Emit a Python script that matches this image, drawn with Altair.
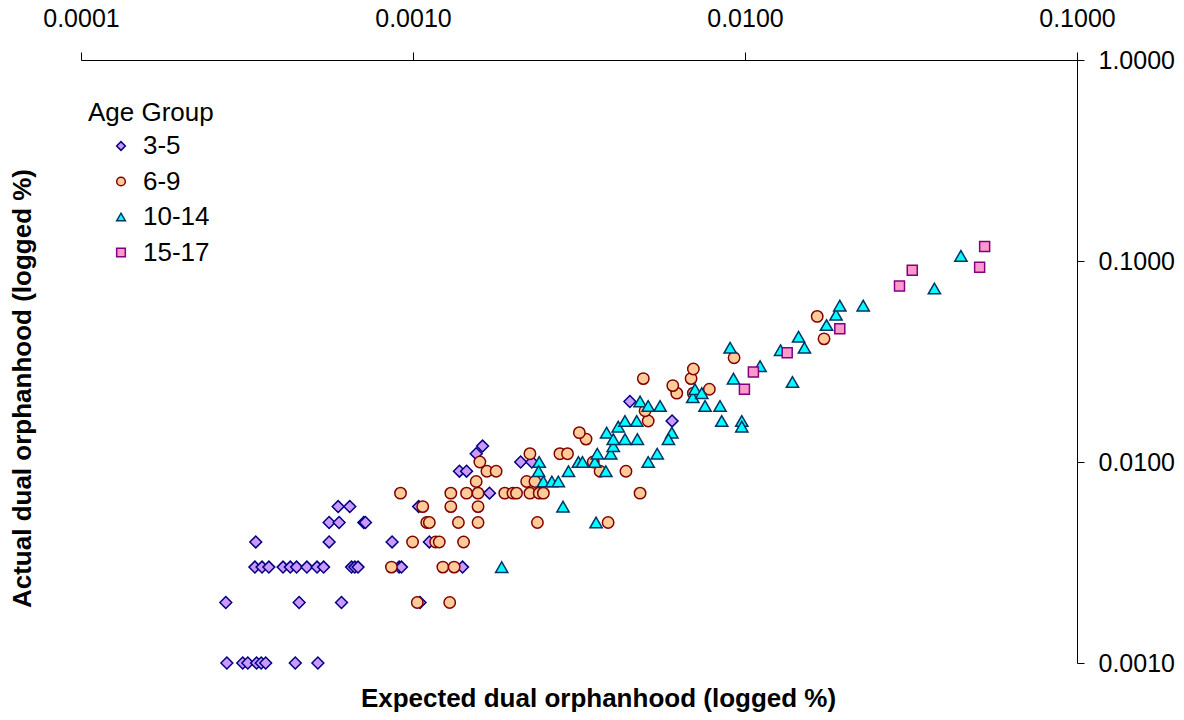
import altair as alt
import pandas as pd

groups = ["3-5", "6-9", "10-14", "15-17"]

# Age group 3-5 (diamonds)
x_35 = [0.000275, 0.000307, 0.000318, 0.000338, 0.000349, 0.000360, 0.000442, 0.000517,
        0.000273, 0.000454, 0.000609, 0.00105,
        0.000334, 0.000351, 0.000368, 0.000406, 0.000427, 0.000446, 0.000479, 0.000514,
        0.000538, 0.000653, 0.000668, 0.000683, 0.000908, 0.000923, 0.00141,
        0.000336, 0.000559, 0.000865, 0.00112,
        0.000559, 0.000599, 0.000711, 0.000719,
        0.000595, 0.000645, 0.00104,
        0.00170,
        0.00138, 0.00145,
        0.00211, 0.00228,
        0.00155, 0.00162, 0.00603, 0.00450]
y_35 = [0.001, 0.001, 0.001, 0.001, 0.001, 0.001, 0.001, 0.001,
        0.002, 0.002, 0.002, 0.002,
        0.003, 0.003, 0.003, 0.003, 0.003, 0.003, 0.003, 0.003,
        0.003, 0.003, 0.003, 0.003, 0.003, 0.003, 0.003,
        0.004, 0.004, 0.004, 0.004,
        0.005, 0.005, 0.005, 0.005,
        0.006, 0.006, 0.006,
        0.007,
        0.009, 0.009,
        0.010, 0.010,
        0.011, 0.012, 0.016, 0.020]

# Age group 6-9 (circles)
x_69 = [0.00103, 0.00129,
        0.000861, 0.00123, 0.00133,
        0.000997, 0.00117, 0.00120, 0.00142,
        0.00110, 0.00112, 0.00137, 0.00157, 0.00237, 0.00387,
        0.00107, 0.00130, 0.00157,
        0.000917, 0.00130, 0.00145, 0.00157, 0.00189, 0.00200, 0.00205, 0.00225, 0.00240, 0.00247, 0.00483,
        0.00155, 0.00220, 0.00233,
        0.00167, 0.00178, 0.00366, 0.00438,
        0.00159, 0.00349,
        0.00225, 0.00277, 0.00292,
        0.00332, 0.00317, 0.00511, 0.00500,
        0.00623, 0.00699, 0.00781, 0.00606, 0.00494, 0.00688, 0.00699,
        0.00927, 0.0173, 0.0165]
y_69 = [0.002, 0.002,
        0.003, 0.003, 0.003,
        0.004, 0.004, 0.004, 0.004,
        0.005, 0.005, 0.005, 0.005, 0.005, 0.005,
        0.006, 0.006, 0.006,
        0.007, 0.007, 0.007, 0.007, 0.007, 0.007, 0.007, 0.007, 0.007, 0.007, 0.007,
        0.008, 0.008, 0.008,
        0.009, 0.009, 0.009, 0.009,
        0.010, 0.010,
        0.011, 0.011, 0.011,
        0.013, 0.014, 0.016, 0.018,
        0.022, 0.022, 0.023, 0.024, 0.026, 0.026, 0.029,
        0.033, 0.041, 0.053]

# Age group 10-14 (triangles)
x_1014 = [0.00185, 0.00283, 0.00356, 0.00240, 0.00239, 0.00247, 0.00262, 0.00274, 0.00294,
          0.00315, 0.00324, 0.00353, 0.00359, 0.00381, 0.00394, 0.00401, 0.00383, 0.00401,
          0.00415, 0.00435, 0.00472, 0.00435, 0.00474, 0.00483, 0.00511, 0.00555, 0.00511,
          0.00544, 0.00602, 0.00588, 0.00696, 0.00707, 0.00741, 0.00758, 0.00841, 0.00851,
          0.00978, 0.00978, 0.00902, 0.00923, 0.0111, 0.0128, 0.0139, 0.0145, 0.0151,
          0.0176, 0.0188, 0.0193, 0.0227, 0.0372, 0.0447]
y_1014 = [0.003, 0.006, 0.005, 0.010, 0.009, 0.008, 0.008, 0.008, 0.009,
          0.010, 0.010, 0.010, 0.011, 0.009, 0.011, 0.012, 0.014, 0.013,
          0.015, 0.016, 0.016, 0.013, 0.013, 0.020, 0.019, 0.019, 0.010,
          0.011, 0.014, 0.013, 0.021, 0.023, 0.022, 0.019, 0.019, 0.016,
          0.016, 0.015, 0.037, 0.026, 0.030, 0.036, 0.025, 0.042, 0.037,
          0.048, 0.054, 0.060, 0.060, 0.073, 0.106]

# Age group 15-17 (squares)
x_1517 = [0.00996, 0.0106, 0.0134, 0.0193, 0.0292, 0.0319, 0.0509, 0.0527]
y_1517 = [0.023, 0.028, 0.035, 0.046, 0.075, 0.090, 0.093, 0.118]

x_ticks = [0.0001, 0.001, 0.01, 0.1]
y_ticks = [0.001, 0.01, 0.1, 1.0]

rows = []
for g, xs, ys in zip(groups, [x_35, x_69, x_1014, x_1517], [y_35, y_69, y_1014, y_1517]):
    for a, b in zip(xs, ys):
        rows.append({"group": g, "expected": a, "actual": b})
df = pd.DataFrame(rows)

fills = ["#CC99FF", "#FFCC99", "#00FFFF", "#FF99CC"]
strokes = ["#000080", "#800000", "#003366", "#800080"]
shapes = ["diamond", "circle", "triangle-up", "square"]
sizes = [140, 130, 150, 100]

W, H = 996, 603
FONT = "Liberation Sans"

legend = alt.Legend(
    title="Age Group", orient="none", legendX=7, legendY=40, padding=0,
    titleFontSize=26, titleFontWeight="normal", titleFont=FONT, titleColor="black",
    labelFontSize=26, labelFont=FONT, labelColor="black",
    symbolSize=75, symbolStrokeWidth=1.5, symbolOffset=20, labelOffset=9,
    rowPadding=9.5, titlePadding=7,
)

x_enc = alt.X("expected:Q",
              scale=alt.Scale(type="log", domain=[0.0001, 0.1], nice=False),
              axis=alt.Axis(orient="top", values=x_ticks, format=".4f", grid=False,
                            title="Expected dual orphanhood (logged %)",
                            titleX=517, titleY=646, titleAlign="center", titleBaseline="alphabetic",
                            titleAngle=0,
                            titleFontSize=26, titleFont=FONT, titleFontWeight="bold", titleColor="black",
                            labelFontSize=25, labelFont=FONT, labelColor="black",
                            labelFlush=False, labelPadding=21, tickSize=8,
                            domainColor="black", tickColor="black"))
y_enc = alt.Y("actual:Q",
              scale=alt.Scale(type="log", domain=[0.001, 1.0], nice=False),
              axis=alt.Axis(orient="right", values=y_ticks, format=".4f", grid=False,
                            title="Actual dual orphanhood (logged %)",
                            titleX=-1055, titleY=328, titleAlign="center", titleBaseline="middle",
                            titleAngle=270,
                            titleFontSize=26, titleFont=FONT, titleFontWeight="bold", titleColor="black",
                            labelFontSize=25, labelFont=FONT, labelColor="black",
                            labelFlush=False, labelPadding=14, tickSize=7,
                            domainColor="black", tickColor="black"))

fill_enc = alt.Fill("group:N", scale=alt.Scale(domain=groups, range=fills), legend=legend)
stroke_enc = alt.Stroke("group:N", scale=alt.Scale(domain=groups, range=strokes), legend=legend)
shape_enc = alt.Shape("group:N", scale=alt.Scale(domain=groups, range=shapes), legend=legend)

base = alt.Chart(df)
layers = []
for g, s in zip(groups, sizes):
    layers.append(
        base.transform_filter(alt.datum.group == g)
        .mark_point(filled=True, strokeWidth=1.5, opacity=1, size=s)
        .encode(x=x_enc, y=y_enc, fill=fill_enc, stroke=stroke_enc, shape=shape_enc)
    )

chart = alt.layer(*layers).properties(
    width=W, height=H,
    autosize=alt.AutoSizeParams(type="none"),
    padding={"left": 81, "top": 60, "right": 1184 - 81 - W, "bottom": 720 - 60 - H},
    background="white",
).configure_view(strokeOpacity=0)

chart.save("out.html", embed_options={"renderer": "svg", "actions": False})
